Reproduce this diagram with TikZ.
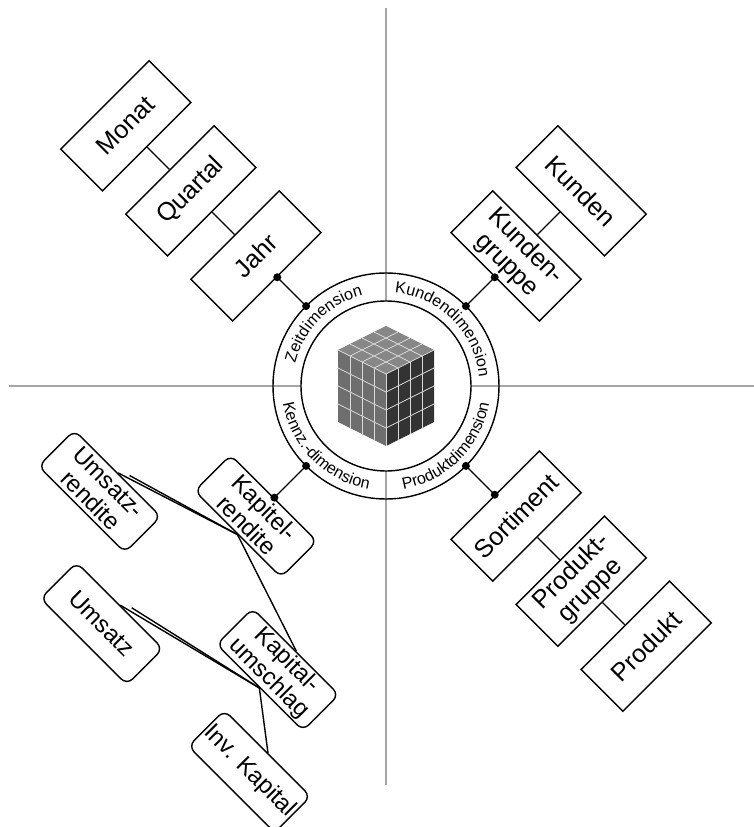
\documentclass[tikz,border=0pt]{standalone}
\usepackage{fontspec}
\setmainfont{Liberation Sans}
\usetikzlibrary{decorations.text}

\newcommand\ringfont{\fontsize{11.5}{13}\selectfont}

\begin{document}
\begin{tikzpicture}[x=0.025cm,y=0.025cm,line width=1pt,
    dimbox/.style={draw,minimum width=3.125cm,minimum height=1.475cm,
      inner sep=0pt,align=center,font=\fontsize{18}{19}\selectfont},
    kzbox/.style={draw,rounded corners=0.2cm,minimum width=3.05cm,
      minimum height=1.27cm,inner sep=0pt,align=center,
      font=\fontsize{17}{18}\selectfont},
    ringtext/.style={decorate,decoration={text along path,
      text align=center,text={|\ringfont|#1}}}]
  \useasboundingbox (-386,386) rectangle (368,-441);
  \clip (-386,386) rectangle (368,-441);

  % axes
  \draw[black!35,line width=1.4pt] (-377,0) -- (368,0);
  \draw[black!35,line width=1.4pt] (0,378) -- (0,-399);

  % ring with the dimension names
  \fill[white] (0,0) circle (85);
  \draw (0,0) circle (85);
  \draw (0,0) circle (113);
  \path[ringtext=Zeitdimension] (175:93.5) arc[start angle=175,end angle=95,radius=93.5];
  \path[ringtext=Kundendimension] (88:93.5) arc[start angle=88,end angle=2,radius=93.5];
  \path[ringtext=Produktdimension] (-88:104.5) arc[start angle=-88,end angle=-2,radius=104.5];
  \path[ringtext=Kennz.-dimension] (182:104.5) arc[start angle=182,end angle=268,radius=104.5];

  % cube
  \begin{scope}[shift={(0,12)}]
    \fill[black!47] (0,0) -- (-48,24) -- (0,48) -- (48,24) -- cycle;
    \fill[black!57] (0,0) -- (-48,24) -- (-48,-48) -- (0,-72) -- cycle;
    \fill[black!80] (0,0) -- (48,24) -- (48,-48) -- (0,-72) -- cycle;
    \foreach \i in {1,2,3} {
      \draw[white!85!black,line width=0.5pt] (-12*\i,6*\i) -- (48-12*\i,24+6*\i);
      \draw[white!85!black,line width=0.5pt] (12*\i,6*\i) -- (-48+12*\i,24+6*\i);
      \draw[white!85!black,line width=0.5pt] (-12*\i,6*\i) -- (-12*\i,6*\i-72);
      \draw[white!85!black,line width=0.5pt] (12*\i,6*\i) -- (12*\i,6*\i-72);
      \draw[white!85!black,line width=0.5pt] (-48,24-18*\i) -- (0,-18*\i) -- (48,24-18*\i);
    }
    \draw[white!85!black,line width=0.5pt] (-48,24) -- (0,0) -- (48,24);
    \draw[white!85!black,line width=0.5pt] (0,0) -- (0,-72);
  \end{scope}

  % Zeitdimension
  \node[dimbox,rotate=45] (jahr) at (135:184) {Jahr};
  \node[dimbox,rotate=45] (quartal) at (135:276) {Quartal};
  \node[dimbox,rotate=45] (monat) at (135:368) {Monat};
  \coordinate (zeit) at (135:113);
  \draw (monat.south) -- (quartal.north);
  \draw (quartal.south) -- (jahr.north);
  \draw (jahr.south) -- (zeit);
  \fill (jahr.south) circle (4) (zeit) circle (4);

  % Kundendimension
  \node[dimbox,rotate=-45] (kgruppe) at (45:184) {Kunden-\\gruppe};
  \node[dimbox,rotate=-45] (kunden) at (45:276) {Kunden};
  \coordinate (kund) at (45:113);
  \draw (kunden.south) -- (kgruppe.north);
  \draw (kgruppe.south) -- (kund);
  \fill (kgruppe.south) circle (4) (kund) circle (4);

  % Produktdimension
  \node[dimbox,rotate=45] (sortiment) at (-45:184) {Sortiment};
  \node[dimbox,rotate=45] (pgruppe) at (-45:276) {Produkt-\\gruppe};
  \node[dimbox,rotate=45] (produkt) at (-45:368) {Produkt};
  \coordinate (prod) at (-45:113);
  \draw (sortiment.south) -- (pgruppe.north);
  \draw (pgruppe.south) -- (produkt.north);
  \draw (sortiment.north) -- (prod);
  \fill (sortiment.north) circle (4) (prod) circle (4);

  % Kennzahlendimension
  \begin{scope}[shift={(-135:184)},rotate=-45]
    \node[kzbox,rotate=-45] (kaprend) at (0,0) {Kapitel-\\rendite};
    \node[kzbox,rotate=-45] (umsrend) at (-128,-93) {Umsatz-\\rendite};
    \node[kzbox,rotate=-45] (kapums) at (124,-93) {Kapital-\\umschlag};
    \node[kzbox,rotate=-45] (umsatz) at (-33,-185) {Umsatz};
    \node[kzbox,rotate=-45] (invkap) at (176,-185) {Inv. Kapital};
    \coordinate (umsrend2) at (-118,-60.6);
    \coordinate (umsatz2) at (-23,-152.6);
  \end{scope}
  \coordinate (kennz) at (-135:113);
  \draw (kaprend.north) -- (kennz);
  \fill (kaprend.north) circle (4) (kennz) circle (4);
  \draw (kaprend.south) -- (umsrend.north);
  \draw (kaprend.south) -- (umsrend2);
  \draw (kaprend.south) -- (kapums.north);
  \draw (kapums.south) -- (umsatz.north);
  \draw (kapums.south) -- (umsatz2);
  \draw (kapums.south) -- (invkap.north);
\end{tikzpicture}
\end{document}
